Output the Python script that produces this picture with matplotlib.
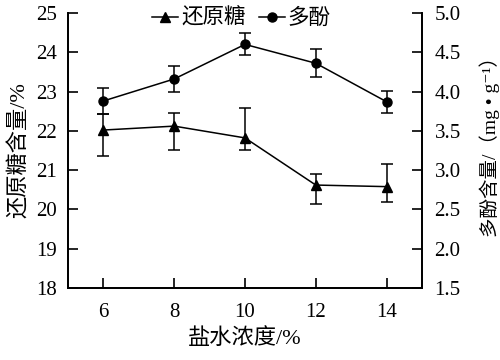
import matplotlib
matplotlib.use("Agg")
import matplotlib.pyplot as plt
from matplotlib.lines import Line2D

plt.rcParams["font.family"] = ["Liberation Serif", "Noto Sans CJK SC", "DejaVu Sans"]
plt.rcParams["axes.unicode_minus"] = False

concentration = [6, 8, 10, 12, 14]

sugar = [22.02, 22.12, 21.82, 20.62, 20.58]
sugar_err_low = [0.65, 0.60, 0.31, 0.49, 0.38]
sugar_err_high = [0.40, 0.34, 0.75, 0.28, 0.58]

polyphenol = [3.88, 4.16, 4.60, 4.36, 3.87]
polyphenol_err = [0.16, 0.17, 0.14, 0.18, 0.14]

left_ticks = [18, 19, 20, 21, 22, 23, 24, 25]
right_ticks = [1.5, 2.0, 2.5, 3.0, 3.5, 4.0, 4.5, 5.0]

fs = 16

fig = plt.figure(figsize=(5, 3.6), dpi=100)
ax = fig.add_axes([0.136, 0.2, 0.708, 0.764])
ax2 = ax.twinx()

err_kw = dict(color="black", lw=1.1, capsize=4, capthick=1.1, elinewidth=1.1)
ax.errorbar(concentration, sugar, yerr=[sugar_err_low, sugar_err_high],
            marker="^", ms=7, **err_kw)
ax2.errorbar(concentration, polyphenol, yerr=polyphenol_err,
             marker="o", ms=6.5, **err_kw)

ax.set_xlim(5, 15)
ax.set_ylim(18, 25)
ax2.set_ylim(1.5, 5.0)
ax.set_xticks(concentration)
ax.set_yticks(left_ticks)
ax2.set_yticks(right_ticks)
ax2.set_yticklabels([f"{v:.1f}" for v in right_ticks])

for a in (ax, ax2):
    a.spines["top"].set_visible(False)
    for s in a.spines.values():
        s.set_linewidth(1.3)
    a.tick_params(direction="in", length=7, width=1.2, labelsize=fs - 1)
ax.tick_params(axis="x", pad=11)
ax.tick_params(axis="y", pad=8)
ax2.tick_params(axis="y", pad=9)

ax.set_xlabel("盐水浓度/%", fontsize=fs, labelpad=4)
ax.set_ylabel("还原糖含量/%", fontsize=fs, labelpad=4)
ax2.set_ylabel("多酚含量/（mg • g⁻¹）", fontsize=fs - 2, va="center")
ax2.yaxis.set_label_coords(1.19, 0.53)

handles = [
    Line2D([], [], color="black", lw=1.1, marker="^", ms=7, label="还原糖"),
    Line2D([], [], color="black", lw=1.1, marker="o", ms=6.5, label="多酚"),
]
ax.legend(handles=handles, loc="upper center", bbox_to_anchor=(0.49, 1.07),
          ncol=2, frameon=False, fontsize=fs - 0.5, handlelength=1.2,
          handletextpad=0.15, columnspacing=0.6, borderpad=0.2)

fig.savefig("out.png", dpi=100)
